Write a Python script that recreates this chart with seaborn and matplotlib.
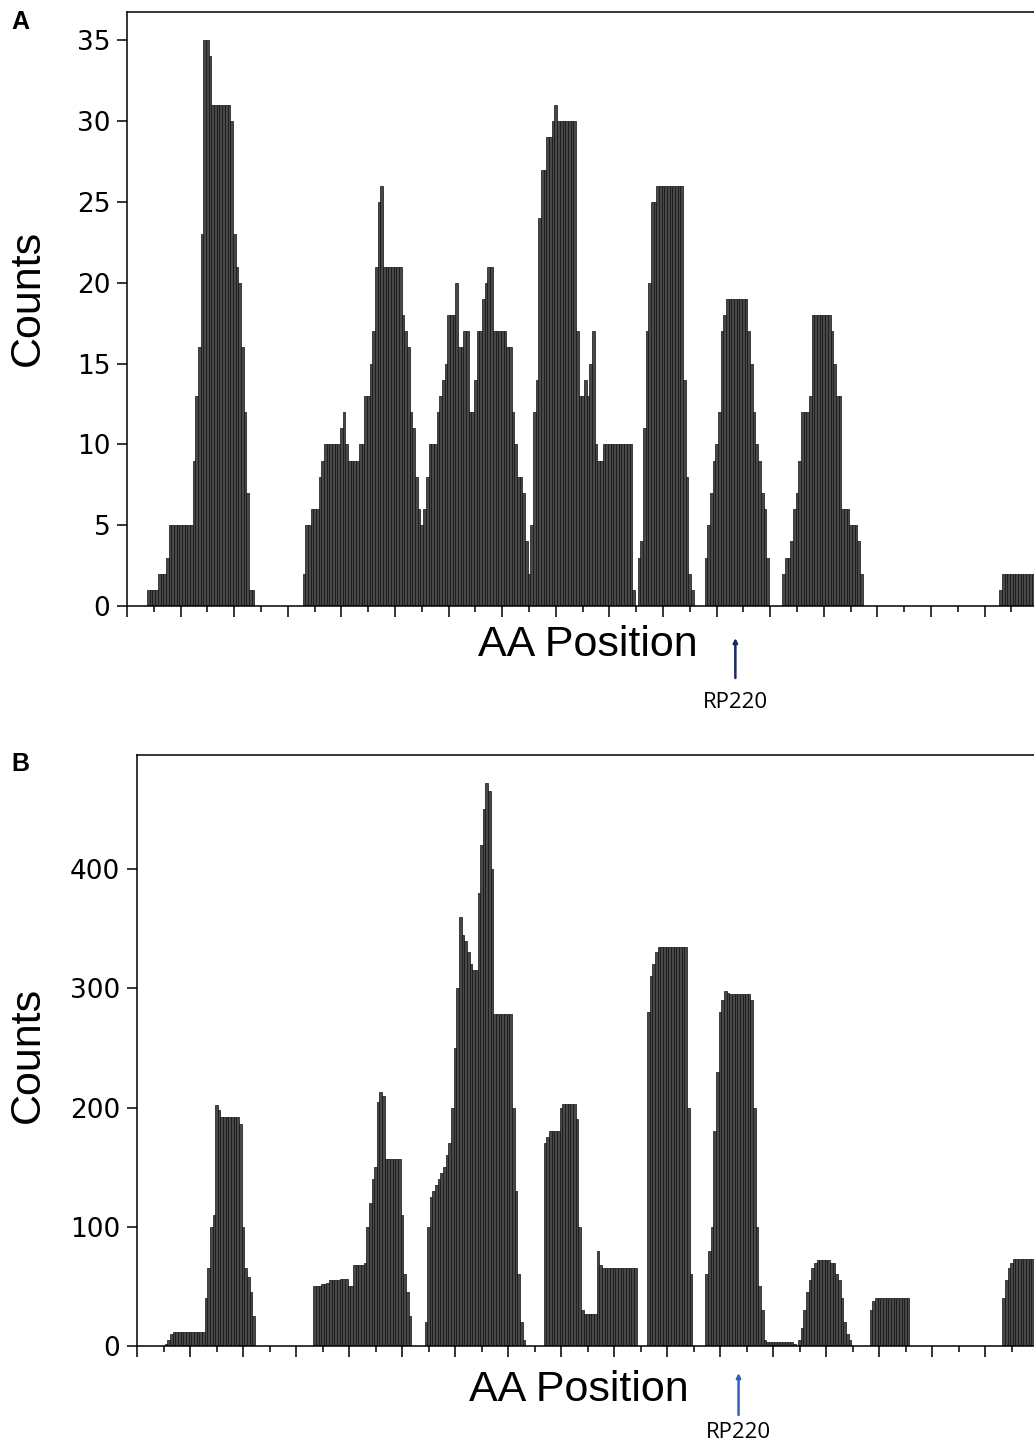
import numpy as np
import pandas as pd
import seaborn as sns
import matplotlib.pyplot as plt
from matplotlib.ticker import MultipleLocator, NullFormatter

# panel A: start residue of each peak group and its counts per residue
a_starts = [8, 66, 191, 216, 245, 326]
a_counts = [
    [1, 1, 1, 1, 2, 2, 2, 3, 5, 5, 5, 5, 5, 5, 5, 5, 5, 9, 13, 16, 23, 35, 35, 34,
     31, 31, 31, 31, 31, 31, 31, 30, 23, 21, 20, 16, 12, 7, 1, 1],
    [2, 5, 5, 6, 6, 6, 8, 9, 10, 10, 10, 10, 10, 10, 11, 12, 10, 9, 9, 9, 9, 10, 10,
     13, 13, 15, 17, 21, 25, 26, 21, 21, 21, 21, 21, 21, 21, 18, 17, 16, 12, 11, 8,
     6, 5, 6, 8, 10, 10, 10, 12, 13, 14, 15, 18, 18, 18, 20, 16, 16, 17, 17, 12, 12,
     14, 17, 17, 19, 20, 21, 21, 17, 17, 17, 17, 17, 16, 16, 12, 10, 8, 8, 7, 4, 2,
     5, 12, 14, 24, 27, 27, 29, 29, 30, 31, 30, 30, 30, 30, 30, 30, 30, 17, 13, 13,
     14, 13, 15, 17, 10, 9, 9, 10, 10, 10, 10, 10, 10, 10, 10, 10, 10, 10, 1],
    [3, 4, 11, 17, 20, 25, 25, 26, 26, 26, 26, 26, 26, 26, 26, 26, 26, 14, 8, 2, 1],
    [3, 5, 7, 9, 10, 12, 17, 18, 19, 19, 19, 19, 19, 19, 19, 19, 17, 15, 12, 10, 9,
     7, 6, 3],
    [2, 3, 3, 4, 6, 7, 9, 12, 12, 12, 13, 18, 18, 18, 18, 18, 18, 18, 17, 15, 13, 13,
     6, 6, 6, 5, 5, 5, 4, 2],
    [1, 2, 2, 2, 2, 2, 2, 2, 2, 2, 2, 2, 2, 2, 2, 2, 2, 2, 2, 2],
]

# panel B
b_starts = [11, 67, 109, 154, 193, 215, 250, 277, 327]
b_counts = [
    [2, 5, 10, 12, 12, 12, 12, 12, 12, 12, 12, 12, 12, 12, 12, 40, 65, 100, 110, 202,
     198, 192, 192, 192, 192, 192, 192, 192, 186, 100, 65, 58, 45, 25],
    [50, 50, 50, 52, 52, 53, 55, 55, 55, 55, 56, 56, 56, 50, 50, 68, 68, 68, 68, 70,
     100, 120, 140, 150, 205, 213, 210, 157, 157, 157, 157, 157, 157, 110, 60, 45,
     25],
    [20, 100, 125, 130, 135, 140, 145, 150, 160, 170, 200, 250, 300, 360, 345, 340,
     330, 320, 315, 315, 380, 420, 450, 472, 465, 400, 278, 278, 278, 278, 278, 278,
     278, 200, 130, 60, 20, 5],
    [170, 175, 180, 180, 180, 180, 200, 203, 203, 203, 203, 203, 190, 100, 30, 27, 27,
     27, 27, 27, 80, 68, 65, 65, 65, 65, 65, 65, 65, 65, 65, 65, 65, 65, 65],
    [280, 310, 320, 330, 335, 335, 335, 335, 335, 335, 335, 335, 335, 335, 335, 200,
     60],
    [60, 80, 100, 180, 230, 280, 290, 298, 296, 295, 295, 295, 295, 295, 295, 295,
     295, 290, 200, 100, 50, 30, 5, 3, 3, 3, 3, 3, 3, 3, 3, 3, 3, 2],
    [5, 15, 30, 45, 55, 65, 70, 72, 72, 72, 72, 72, 70, 70, 60, 55, 40, 20, 10, 5],
    [30, 38, 40, 40, 40, 40, 40, 40, 40, 40, 40, 40, 40, 40, 40],
    [40, 55, 65, 70, 73, 73, 73, 73, 73, 73, 73, 73, 73, 73, 73, 73, 73, 73, 73],
]

rp220_pos = 227
x_max = 345


def to_frame(starts, counts):
    pos, val = [], []
    for s, c in zip(starts, counts):
        pos += list(range(s, s + len(c)))
        val += c
    return pd.DataFrame({'pos': pos, 'count': val})


df_a = to_frame(a_starts, a_counts)
df_b = to_frame(b_starts, b_counts)

sns.set_style('ticks')
plt.rcParams['font.family'] = ['DejaVu Sans']
plt.rcParams['text.color'] = 'black'
plt.rcParams['xtick.color'] = 'black'
plt.rcParams['ytick.color'] = 'black'
plt.rcParams['xtick.labelcolor'] = 'black'
plt.rcParams['ytick.labelcolor'] = 'black'

W, H = 1034, 1442
fig = plt.figure(figsize=(W / 100, H / 100), dpi=100)

# axes placed in pixels of the reference; right spine falls outside the picture
ax_a = fig.add_axes([127 / W, 1 - 606 / H, x_max * 2.68 / W, 594 / H])
ax_b = fig.add_axes([137 / W, 1 - 1346 / H, x_max * 2.65 / W, 591 / H])

for ax, df, yt in [(ax_a, df_a, 5), (ax_b, df_b, 100)]:
    sns.histplot(data=df, x='pos', weights='count', discrete=True, ax=ax,
                 color='#484848', edgecolor='#111111', linewidth=0.5, alpha=1)
    # empty bins would only thicken the baseline
    for p in list(ax.patches):
        if p.get_height() == 0:
            p.remove()
    ax.set_xlim(0, x_max)
    ax.set_ylim(0, df['count'].max() * 1.05)
    ax.xaxis.set_major_locator(MultipleLocator(20))
    ax.xaxis.set_minor_locator(MultipleLocator(10))
    ax.xaxis.set_major_formatter(NullFormatter())
    ax.yaxis.set_major_locator(MultipleLocator(yt))
    ax.tick_params(axis='x', which='major', length=8, width=1.1, color='black')
    ax.tick_params(axis='x', which='minor', length=4, width=1.1, color='black')
    ax.tick_params(axis='y', length=7, width=1.1, labelsize=19, pad=5,
                   labelcolor='black', color='black')
    ax.set_xlabel('')
    ax.set_ylabel('')
    for side in ['left', 'top', 'bottom', 'right']:
        ax.spines[side].set_visible(True)
        ax.spines[side].set_linewidth(1.1)
        ax.spines[side].set_color('black')

lab = dict(family='Liberation Sans', fontsize=31, color='black')
fig.text(28 / W, 1 - 298 / H, 'Counts', rotation=90, ha='center', va='center', **lab)
fig.text(588 / W, 1 - 645 / H, 'AA Position', ha='center', va='center', **lab)
fig.text(28 / W, 1 - 1055 / H, 'Counts', rotation=90, ha='center', va='center', **lab)
fig.text(579 / W, 1 - 1390 / H, 'AA Position', ha='center', va='center', **lab)

fig.text(20 / W, 1 - 22 / H, 'A', ha='center', va='center', fontsize=18,
         fontweight='bold', family='Liberation Sans', color='black')
fig.text(20 / W, 1 - 764 / H, 'B', ha='center', va='center', fontsize=18,
         fontweight='bold', family='Liberation Sans', color='black')

# RP220 markers below each x axis
for ax, y0, y1, yt, col in [(ax_a, 678, 638, 702, '#1c2b5e'),
                            (ax_b, 1415, 1373, 1432, '#2f63c0')]:
    bot = ax.get_position().y0 * H
    hgt = ax.get_position().height * H
    fr = lambda yy: ((H - yy) - bot) / hgt
    ax.annotate('', xy=(rp220_pos, fr(y1)), xytext=(rp220_pos, fr(y0)),
                xycoords=('data', 'axes fraction'), textcoords=('data', 'axes fraction'),
                arrowprops=dict(arrowstyle='-|>', color=col, lw=1.8,
                                mutation_scale=6, shrinkA=0, shrinkB=0),
                annotation_clip=False)
    ax.text(rp220_pos, fr(yt), 'RP220', transform=ax.get_xaxis_transform(),
            ha='center', va='center', fontsize=16, family='Open Sans',
            color='black', clip_on=False)

fig.savefig('out.png', dpi=100)
